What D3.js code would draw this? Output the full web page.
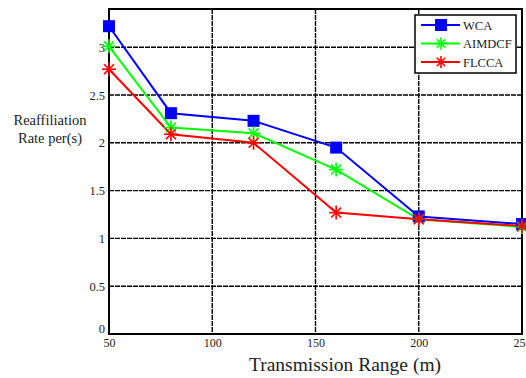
<!DOCTYPE html>
<html><head><meta charset="utf-8">
<script src="https://cdn.jsdelivr.net/npm/d3@7"></script>
<style>body{margin:0;background:#fff}svg{display:block}svg text{font-family:'Liberation Serif','DejaVu Serif',serif !important;fill:#222}</style>
</head><body>
<script>
const xValues = [50, 80, 120, 160, 200, 250];
const wca = [3.22, 2.31, 2.23, 1.95, 1.23, 1.15];
const aimdcf = [3.01, 2.16, 2.10, 1.72, 1.20, 1.12];
const flcca = [2.77, 2.09, 2.00, 1.27, 1.20, 1.13];
const seriesNames = ["WCA", "AIMDCF", "FLCCA"];
const seriesColors = ["#0000ff", "#00ff00", "#ff0000"];
const xTicks = [50, 100, 150, 200, 250];
const yTicks = [0, 0.5, 1, 1.5, 2, 2.5, 3];

const W = 526, H = 378;
const m = {left: 109, right: 4, top: 9, bottom: 44};
const svg = d3.select("body").append("svg").attr("width", W).attr("height", H);
const x = d3.scaleLinear().domain([50, 250]).range([m.left, W - m.right]);
const y = d3.scaleLinear().domain([0, 3.4]).range([H - m.bottom, m.top]);

const g = svg.append("g");
g.selectAll(".hg").data(yTicks.filter(d => d > 0)).join("line")
  .attr("x1", m.left).attr("x2", W - m.right).attr("y1", d => y(d)).attr("y2", d => y(d))
  .attr("stroke", "#000").attr("stroke-width", 1.4).attr("stroke-dasharray", "5,1");
g.selectAll(".vg").data(xTicks.filter(d => d > 50 && d < 250)).join("line")
  .attr("y1", m.top).attr("y2", H - m.bottom).attr("x1", d => x(d)).attr("x2", d => x(d))
  .attr("stroke", "#000").attr("stroke-width", 1.4).attr("stroke-dasharray", "5,1");

const xAxis = svg.append("g").attr("transform", `translate(0,${H - m.bottom})`)
  .call(d3.axisBottom(x).tickValues(xTicks).tickSize(0).tickPadding(4));
xAxis.select(".domain").remove();
xAxis.attr("font-family", null);
xAxis.selectAll("text").attr("font-size", 12);
const yAxis = svg.append("g").attr("transform", `translate(${m.left},0)`)
  .call(d3.axisLeft(y).tickValues(yTicks).tickSize(0).tickPadding(4).tickFormat(d3.format("")));
yAxis.select(".domain").remove();
yAxis.attr("font-family", null);
yAxis.selectAll("text").attr("font-size", 12.5);
yAxis.selectAll("text").filter(d => d === 0).attr("dy", "-0.1em");

svg.append("rect").attr("x", m.left).attr("y", m.top)
  .attr("width", W - m.right - m.left).attr("height", H - m.bottom - m.top)
  .attr("fill", "none").attr("stroke", "#000").attr("stroke-width", 2);

const allSeries = [wca, aimdcf, flcca];
const line = d3.line().x((d, i) => x(xValues[i])).y(d => y(d));
function star(sel, cx, cy, r, color) {
  const gg = sel.append("g").attr("transform", `translate(${cx},${cy})`);
  [0, 45, 90, 135].forEach(a => {
    const rad = a * Math.PI / 180;
    gg.append("line").attr("x1", -r * Math.cos(rad)).attr("y1", -r * Math.sin(rad))
      .attr("x2", r * Math.cos(rad)).attr("y2", r * Math.sin(rad))
      .attr("stroke", color).attr("stroke-width", 1.6);
  });
}
function marker(sel, k, cx, cy, legend) {
  const c = seriesColors[k];
  if (k === 0) {
    const s = 12;
    sel.append("rect").attr("x", cx - s / 2).attr("y", cy - s / 2).attr("width", s).attr("height", s).attr("fill", c);
  } else {
    star(sel, cx, cy, legend ? 6 : 7, c);
  }
}
allSeries.forEach((vals, k) => {
  svg.append("path").datum(vals).attr("d", line).attr("fill", "none")
    .attr("stroke", seriesColors[k]).attr("stroke-width", 2);
});
allSeries.forEach((vals, k) => {
  const mg = svg.append("g");
  vals.forEach((v, i) => marker(mg, k, x(xValues[i]), y(v), false));
});

const lg = svg.append("g");
lg.append("rect").attr("x", 415).attr("y", 15).attr("width", 101).attr("height", 58)
  .attr("fill", "#fff").attr("stroke", "#000").attr("stroke-width", 1.5);
seriesNames.forEach((n, k) => {
  const ly = 25 + k * 18.5;
  lg.append("line").attr("x1", 421).attr("x2", 460).attr("y1", ly).attr("y2", ly)
    .attr("stroke", seriesColors[k]).attr("stroke-width", 2);
  marker(lg, k, 441, ly, true);
  lg.append("text").attr("x", 463).attr("y", ly + 4.5).attr("font-size", 12.5).text(n);
});

svg.append("text").attr("x", 50).attr("y", 125).attr("text-anchor", "middle").attr("font-size", 14.5).text("Reaffiliation");
svg.append("text").attr("x", 50).attr("y", 143).attr("text-anchor", "middle").attr("font-size", 14.5).text("Rate per(s)");
svg.append("text").attr("x", 345).attr("y", 371).attr("text-anchor", "middle").attr("font-size", 19.5).text("Transmission Range (m)");
</script>
</body></html>
